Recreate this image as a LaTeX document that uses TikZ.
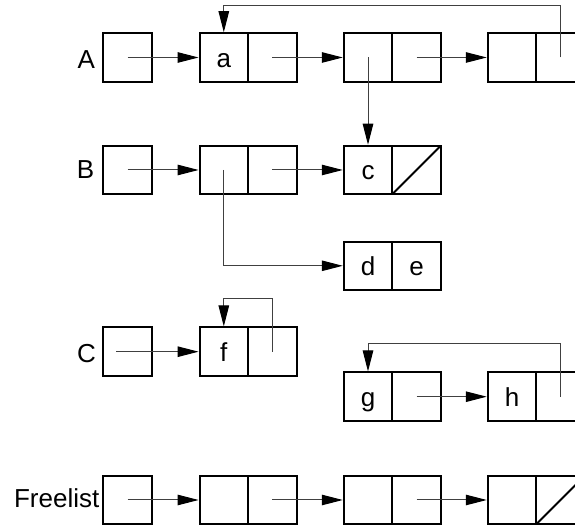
\documentclass[tikz,border=0pt]{standalone}
\usepackage{fontspec}
\setmainfont{Liberation Sans}
\usetikzlibrary{arrows.meta,calc}
\begin{document}
\begin{tikzpicture}[x=1pt,y=1pt,
  cell/.style={draw, line width=2pt, minimum width=48.5pt, minimum height=48.5pt,
    inner sep=0pt, outer sep=0pt, text height=20pt, text depth=0pt,
    font=\fontsize{26}{30}\selectfont},
  lbl/.style={anchor=base, inner sep=0pt, font=\fontsize{26}{30}\selectfont},
  ptr/.style={draw=black!75, line width=1pt, shorten >=1pt,
    -{Triangle[length=21pt,width=10.5pt,color=black]}},
  nil/.style={draw, line width=2pt}]
\useasboundingbox (0,0) rectangle (575,526);
\clip (0,0) rectangle (575,526);

% ---- row A
\node[lbl] (LA) at (86.3,457) {A};
\node[cell] (A0)  at (127.7,468.5) {};
\node[cell] (A1a) at (223.8,468.5) {a};
\node[cell] (A1b) at (272.3,468.5) {};
\node[cell] (A2a) at (368,468.5) {};
\node[cell] (A2b) at (416.5,468.5) {};
\node[cell] (A3a) at (512,468.5) {};
\node[cell] (A3b) at (560.5,468.5) {};
\coordinate (Aloop) at (560.5,520);

% ---- row B
\node[lbl] (LB) at (85.5,347) {B};
\node[cell] (B0)  at (127.7,356) {};
\node[cell] (B1a) at (223.8,356) {};
\node[cell] (B1b) at (272.3,356) {};
\node[cell] (B2a) at (368,356) {c};
\node[cell] (B2b) at (416.5,356) {};

% ---- d e
\node[cell] (Da) at (368,260.2) {d};
\node[cell] (Db) at (416.5,260.2) {e};

% ---- row C
\node[lbl] (LC) at (86.5,163) {C};
\node[cell] (C0)  at (127.7,174.3) {};
\node[cell] (C1a) at (223.8,174.3) {f};
\node[cell] (C1b) at (272.3,174.3) {};
\coordinate (Cstart) at (116,174.3);
\coordinate (Cloop) at (272.3,227);

% ---- g h
\node[cell] (Ga) at (368,129.3) {g};
\node[cell] (Gb) at (416.5,129.3) {};
\node[cell] (Ha) at (512,129.3) {h};
\node[cell] (Hb) at (560.5,129.3) {};
\coordinate (Gloop) at (560.5,182);

% ---- Freelist
\node[lbl] (LF) at (56.7,18.3) {Freelist};
\node[cell] (F0)  at (127.7,26) {};
\node[cell] (F1a) at (223.8,26) {};
\node[cell] (F1b) at (272.3,26) {};
\node[cell] (F2a) at (368,26) {};
\node[cell] (F2b) at (416.5,26) {};
\node[cell] (F3a) at (512,26) {};
\node[cell] (F3b) at (560.5,26) {};

% ---- null pointers
\draw[nil] (B2b.south west) -- (B2b.north east);
\draw[nil] (F3b.south west) -- (F3b.north east);

% ---- pointers
\draw[ptr] (A0.center) -- (A1a.west);
\draw[ptr] (A1b.center) -- (A2a.west);
\draw[ptr] (A2b.center) -- (A3a.west);
\draw[ptr] (A3b.center) -- (Aloop) -| (A1a.north);
\draw[ptr] (A2a.center) -- (B2a.north);

\draw[ptr] (B0.center) -- (B1a.west);
\draw[ptr] (B1b.center) -- (B2a.west);
\draw[ptr] (B1a.center) |- (Da.west);

\draw[ptr] (Cstart) -- (C1a.west);
\draw[ptr] (C1b.center) -- (Cloop) -| (C1a.north);

\draw[ptr] (Gb.center) -- (Ha.west);
\draw[ptr] (Hb.center) -- (Gloop) -| (Ga.north);

\draw[ptr] (F0.center) -- (F1a.west);
\draw[ptr] (F1b.center) -- (F2a.west);
\draw[ptr] (F2b.center) -- (F3a.west);
\end{tikzpicture}
\end{document}
